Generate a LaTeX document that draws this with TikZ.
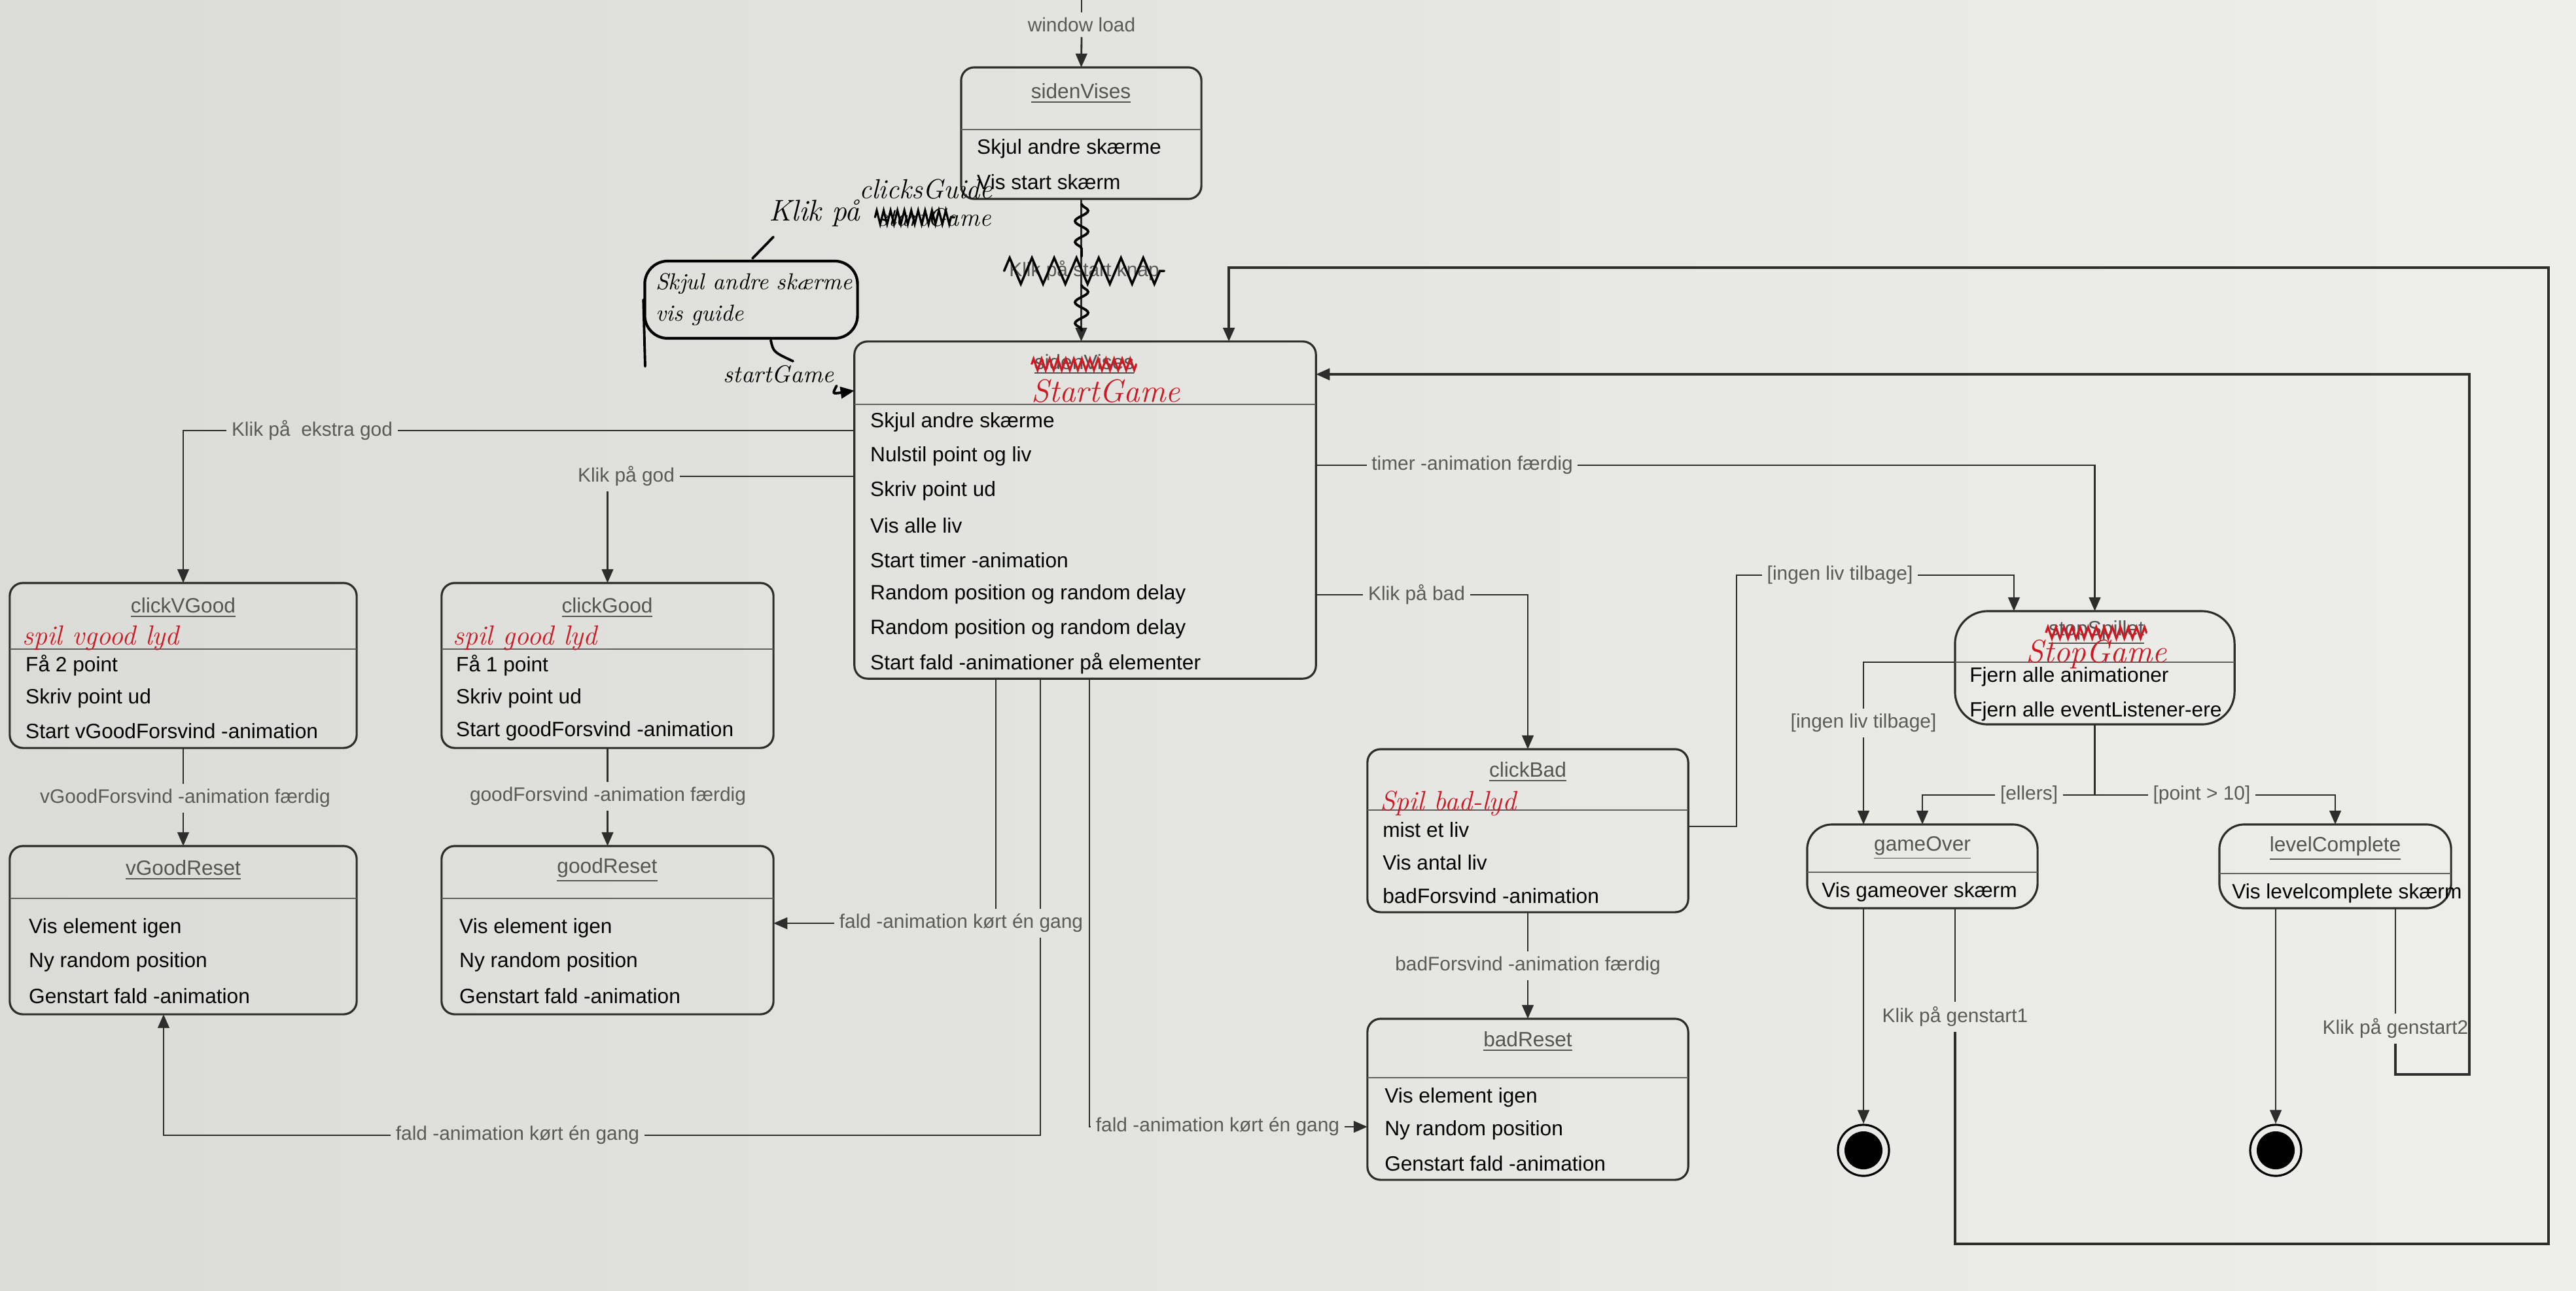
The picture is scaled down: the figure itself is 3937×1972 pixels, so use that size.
\documentclass[tikz,border=0pt]{standalone}
\usepackage{fontspec}
\setsansfont{Liberation Sans}
\usetikzlibrary{arrows.meta,decorations.pathmorphing}
\definecolor{paperA}{RGB}{219,219,215}
\definecolor{paperB}{RGB}{238,238,235}
\definecolor{ink}{RGB}{45,45,45}
\definecolor{lblgray}{RGB}{90,90,90}
\definecolor{titlegray}{RGB}{85,85,85}
\definecolor{pen}{RGB}{205,25,35}
\newcommand{\myfs}[1]{\fontsize{#1}{#1}\selectfont}
\newcommand{\mkstate}[6]{%
  \pgfmathsetmacro{\mkw}{(#4-#2)/100}%
  \pgfmathsetmacro{\mkh}{(#5-#3)/100}%
  \node[statebox, rounded corners=#6, minimum width=\mkw cm, minimum height=\mkh cm] (#1) at ({(#2+#4)/2},{(#3+#5)/2}) {};%
}
\newcommand{\mksep}[2]{\draw[sepline] (#1.west |- 0,#2) -- (#1.east |- 0,#2);}
\newcommand{\mkitems}[5]{\foreach \t [count=\i] in {#5} {\node[item] (#1-i\i) at (#2,{#3+(\i-1)*#4}) {\t};}}
\tikzset{
  statebox/.style={draw=ink, line width=0.9pt, inner sep=0pt, outer sep=0pt},
  sepline/.style={draw=ink!75, line width=0.7pt},
  item/.style={anchor=west, inner sep=1pt, font=\sffamily\myfs{9}, text=black},
  stitle/.style={inner sep=1pt, font=\sffamily\myfs{9}, text=titlegray},
  lbl/.style={inner sep=2pt, font=\sffamily\myfs{8.5}, text=lblgray},
  conn/.style={draw=ink, line width=0.8pt},
  arr/.style={conn, -{Triangle[width=5pt,length=6pt]}},
  loopline/.style={draw=ink, line width=1.1pt},
  redhand/.style={inner sep=1pt, font=\rmfamily\itshape\myfs{12}, text=pen},
  hand/.style={inner sep=1pt, font=\rmfamily\itshape\myfs{11}, text=black},
  handline/.style={draw=black, line width=1.1pt, line cap=round},
  redscrib/.style={draw=pen, line width=0.9pt, decorate, decoration={zigzag, segment length=3.5pt, amplitude=2.5pt}},
  finalstate/.style={circle, draw=black, line width=0.9pt, minimum size=0.78cm, inner sep=0pt,
    path picture={\fill[black] (path picture bounding box.center) circle (0.29cm);}},
}
\begin{document}
\begin{tikzpicture}[x=0.01cm,y=-0.01cm]
\useasboundingbox (0,0) rectangle (3937,1972);
\shade[left color=paperA, right color=paperB] (0,0) rectangle (3937,1972);

% ---------- states ----------
\mkstate{sv}{1469}{103}{1836}{304}{0.2cm}
\mkstate{sg}{1306}{522}{2011}{1037}{0.2cm}
\mkstate{cvg}{15}{891}{545}{1143}{0.2cm}
\mkstate{cg}{675}{891}{1182}{1143}{0.2cm}
\mkstate{vgr}{15}{1293}{545}{1550}{0.2cm}
\mkstate{gr}{675}{1293}{1182}{1550}{0.2cm}
\mkstate{cb}{2090}{1145}{2580}{1394}{0.2cm}
\mkstate{br}{2090}{1557}{2580}{1803}{0.2cm}
\mkstate{stg}{2988}{934}{3415}{1107}{0.5cm}
\mkstate{go}{2762}{1260}{3114}{1388}{0.38cm}
\mkstate{lc}{3392}{1260}{3746}{1388}{0.38cm}

\mksep{sv}{198}
\mksep{sg}{618}
\mksep{cvg}{992}
\mksep{cg}{992}
\mksep{vgr}{1373}
\mksep{gr}{1373}
\mksep{cb}{1238}
\mksep{br}{1647}
\mksep{stg}{1012}
\mksep{go}{1333}
\mksep{lc}{1335}

% titles
\node[stitle] (sv-t) at (1652,143) {\underline{sidenVises}};
\node[stitle] (sg-t) at (1657,557) {\underline{sidenVises}};
\draw[redscrib] (sg-t.west) -- (sg-t.east);
\node[redhand, font=\rmfamily\itshape\myfs{14}] (sg-r) at (1690,598) {StartGame};
\node[stitle] (cvg-t) at (280,929) {\underline{clickVGood}};
\node[stitle] (cg-t) at (928,929) {\underline{clickGood}};
\node[stitle] (vgr-t) at (280,1330) {\underline{vGoodReset}};
\node[stitle] (gr-t) at (928,1330) {\underline{goodReset}};
\node[stitle] (cb-t) at (2335,1180) {\underline{clickBad}};
\node[stitle] (br-t) at (2335,1592) {\underline{badReset}};
\node[stitle] (stg-t) at (3204,967) {\underline{stopSpillet}};
\draw[redscrib] (stg-t.west) -- (stg-t.east);
\node[redhand, font=\rmfamily\itshape\myfs{14}] (stg-r) at (3204,1000) {StopGame};
\node[stitle] (go-t) at (2938,1296) {\underline{gameOver}};
\node[stitle] (lc-t) at (3569,1297) {\underline{levelComplete}};

% red handwritten additions
\node[redhand, anchor=west] (cvg-r) at (30,975) {spil vgood lyd};
\node[redhand, anchor=west] (cg-r) at (688,975) {spil good lyd};
\node[redhand, anchor=west] (cb-r) at (2105,1228) {Spil bad-lyd};

% items
\mkitems{sv}{1489}{227}{51}{Skjul andre skærme, Vis start skærm}
\mkitems{sg}{1326}{645}{52.7}{Skjul andre skærme, Nulstil point og liv, Skriv point ud, Vis alle liv, Start timer -animation, Random position og random delay, Random position og random delay, Start fald -animationer på elementer}
\mkitems{cvg}{35}{1017}{50}{Få 2 point, Skriv point ud, Start vGoodForsvind -animation}
\mkitems{cg}{693}{1017}{50}{Få 1 point, Skriv point ud, Start goodForsvind -animation}
\mkitems{vgr}{40}{1418}{52}{Vis element igen, Ny random position, Genstart fald -animation}
\mkitems{gr}{698}{1418}{52}{Vis element igen, Ny random position, Genstart fald -animation}
\mkitems{cb}{2109}{1268}{50.5}{mist et liv, Vis antal liv, badForsvind -animation}
\mkitems{br}{2112}{1677}{50.5}{Vis element igen, Ny random position, Genstart fald -animation}
\mkitems{stg}{3006}{1034}{53}{Fjern alle animationer, Fjern alle eventListener-ere}
\mkitems{go}{2780}{1363}{50}{Vis gameover skærm}
\mkitems{lc}{3407}{1365}{50}{Vis levelcomplete skærm}

% final states
\node[finalstate] (f1) at (2848,1758) {};
\node[finalstate] (f2) at (3478,1758) {};

% ---------- labels ----------
\node[lbl] (lwl) at (1653,38) {window load};
\node[lbl] (lklik) at (1657,414) {Klik på start knap};
\node[lbl] (lxgood) at (477,658) {Klik på~ ekstra god};
\node[lbl] (lgod) at (957,728) {Klik på god};
\node[lbl] (lvgf) at (283,1220) {vGoodForsvind -animation færdig};
\node[lbl] (lgf) at (929,1217) {goodForsvind -animation færdig};
\node[lbl] (ltimer) at (2250,711) {timer -animation færdig};
\node[lbl] (lbad) at (2165,909) {Klik på bad};
\node[lbl] (lbf) at (2335,1476) {badForsvind -animation færdig};
\node[lbl] (lingen1) at (2812,879) {[ingen liv tilbage]};
\node[lbl] (lingen2) at (2848,1105) {[ingen liv tilbage]};
\node[lbl] (lels) at (3101,1215) {[ellers]};
\node[lbl] (lpoint) at (3365,1215) {[point > 10]};
\node[lbl] (lre1) at (2988,1554) {Klik på genstart1};
\node[lbl] (lre2) at (3661,1572) {Klik på genstart2};
\node[lbl] (lfald1) at (1469,1411) {fald -animation kørt én gang};
\node[lbl] (lfald2) at (791,1735) {fald -animation kørt én gang};
\node[lbl] (lfald3) at (1861,1722) {fald -animation kørt én gang};

% ---------- connectors ----------
\coordinate (wltop) at (1653,0);
\draw[conn] (wltop) -- (lwl.north);
\draw[arr] (lwl.south) -- (sv.north);
\draw[arr] (sv.south) -- (sv.south |- sg.north);

\draw[conn] (sg.west |- lxgood) -- (lxgood.east);
\draw[arr] (lxgood.west) -| (cvg.north);
\draw[conn] (sg.west |- lgod) -- (lgod.east);
\draw[arr] (lgod.south -| cg.north) -- (cg.north);

\draw[conn] (cvg.south) -- (cvg.south |- lvgf.north);
\draw[arr] (cvg.south |- lvgf.south) -- (vgr.north);
\draw[conn] (cg.south) -- (cg.south |- lgf.north);
\draw[arr] (cg.south |- lgf.south) -- (gr.north);

\draw[conn] (sg.east |- ltimer) -- (ltimer.west);
\draw[arr] (ltimer.east) -| (stg.north);
\draw[conn] (sg.east |- lbad) -- (lbad.west);
\draw[arr] (lbad.east) -| (cb.north);

\draw[conn] (cb.south) -- (cb.south |- lbf.north);
\draw[arr] (cb.south |- lbf.south) -- (br.north);

\draw[conn] (cb.east |- 0,1263) -- (2654,1263) |- (lingen1.west);
\draw[arr] (lingen1.east) -| ([xshift=-1.235cm]stg.north);
\draw[conn] (stg.west |- 0,1012) -| (lingen2.north);
\draw[arr] (lingen2.south) -- (lingen2.south |- go.north);

\coordinate (split) at (3201.5,1215);
\draw[conn] (stg.south) -- (split);
\draw[conn] (split) -- (lels.east);
\draw[arr] (lels.west) -| (go.north);
\draw[conn] (split) -- (lpoint.west);
\draw[arr] (lpoint.east) -| (lc.north);

\draw[arr] (go.south -| f1) -- (f1.north);
\draw[arr] (lc.south -| f2) -- (f2.north);

\draw[conn] (go.south -| lre1) -- (lre1.north);
\draw[loopline, -{Triangle[width=5pt,length=6pt]}] (lre1.south) -- (lre1.south |- 0,1901) -| (3895,409) -| ([xshift=2.195cm]sg.north);
\draw[conn] (lc.south -| lre2) -- (lre2.north);
\draw[loopline, -{Triangle[width=5pt,length=6pt]}] (lre2.south) |- (3774,1642) |- (sg.east |- 0,572);

\draw[conn] (sg.south -| 1522,0) -- (lfald1.north -| 1522,0);
\draw[arr] (lfald1.west) -- (gr.east |- lfald1);
\draw[conn] (sg.south -| 1590,0) -- (lfald1.north -| 1590,0);
\draw[conn] (lfald1.south -| 1590,0) |- (lfald2.east);
\draw[arr] (lfald2.west) -| ([xshift=-0.3cm]vgr.south);
\draw[conn] (sg.south -| 1665,0) |- (lfald3.west);
\draw[arr] (lfald3.east) -- (br.west |- lfald3);

% ---------- handwritten annotations ----------
\draw[handline, decorate, decoration={snake, segment length=0.32cm, amplitude=0.1cm}] (1653,312) -- (1653,392);
\draw[handline, decorate, decoration={snake, segment length=0.32cm, amplitude=0.1cm}] (1653,436) -- (1653,505);
\draw[handline, line width=1pt, decorate, decoration={zigzag, segment length=0.34cm, amplitude=0.2cm}] (lklik.west) -- (lklik.east);

\node[draw=black, line width=1.2pt, rounded corners=0.35cm, minimum width=3.25cm, minimum height=1.18cm, inner sep=0pt] (note) at (1148,458) {};
\draw[handline] (note.west) -- (986,560);
\node[hand, anchor=west, font=\rmfamily\itshape\myfs{10}] (note-1) at (998,434) {Skjul andre skærme};
\node[hand, anchor=west, font=\rmfamily\itshape\myfs{10}] (note-2) at (998,482) {vis guide};
\draw[handline] (1178,520) .. controls (1182,538) .. (1212,552);
\draw[handline] (1150,395) -- (1182,362);

\node[hand, font=\rmfamily\itshape\myfs{13}] (hklik) at (1245,326) {Klik på};
\node[hand, font=\rmfamily\itshape\myfs{11}] (hscr) at (1428,332) {startGame};
\draw[handline, line width=0.9pt, decorate, decoration={zigzag, segment length=3pt, amplitude=3pt}] (hscr.west) -- ([xshift=-0.6cm]hscr.east);
\node[hand, font=\rmfamily\itshape\myfs{12}] (hcg) at (1415,289) {clicksGuide};

\node[hand, font=\rmfamily\itshape\myfs{10.5}] (hsg) at (1190,572) {startGame};
\draw[handline, -{Triangle[width=5pt,length=6pt]}] (hsg.south east) .. controls (1272,602) .. (sg.west |- 0,597);
\end{tikzpicture}
\end{document}
